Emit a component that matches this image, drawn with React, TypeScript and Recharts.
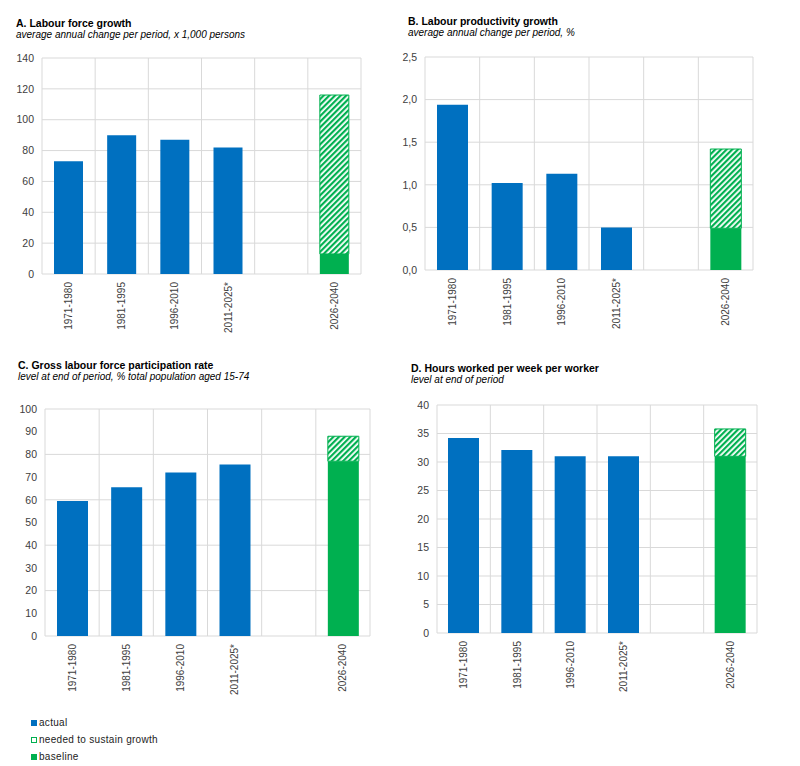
import { BarChart, Bar, XAxis, YAxis, CartesianGrid } from "recharts";

const categories = ["1971-1980", "1981-1995", "1996-2010", "2011-2025*", "", "2026-2040"];

// A. Labour force growth
const laborActual = [73, 90, 87, 82, null, null];
const laborBaseline = [null, null, null, null, null, 13];
const laborNeeded = [null, null, null, null, null, 103];
const laborTicks = [0, 20, 40, 60, 80, 100, 120, 140];

// B. Labour productivity growth
const prodActual = [1.94, 1.02, 1.13, 0.5, null, null];
const prodBaseline = [null, null, null, null, null, 0.49];
const prodNeeded = [null, null, null, null, null, 0.93];
const prodTicks = [0, 0.5, 1, 1.5, 2, 2.5];

// C. Gross labour force participation rate
const partActual = [59.5, 65.5, 72, 75.5, null, null];
const partBaseline = [null, null, null, null, null, 77];
const partNeeded = [null, null, null, null, null, 11];
const partTicks = [0, 10, 20, 30, 40, 50, 60, 70, 80, 90, 100];

// D. Hours worked per week per worker
const hoursActual = [34.2, 32.1, 31, 31, null, null];
const hoursBaseline = [null, null, null, null, null, 31];
const hoursNeeded = [null, null, null, null, null, 4.8];
const hoursTicks = [0, 5, 10, 15, 20, 25, 30, 35, 40];

const legendItems = ["actual", "needed to sustain growth", "baseline"];

const BLUE = "#0070C0";
const GREEN = "#00B050";
const GRID = "#d9d9d9";
const FONT = "'Liberation Sans', Arial, sans-serif";

type PanelProps = {
  id: string;
  title: string;
  subtitle: string;
  titleLeft: number;
  titleTop: number;
  actual: (number | null)[];
  baseline: (number | null)[];
  needed: (number | null)[];
  ticks: number[];
  fmt?: (v: number) => string;
  left: number;
  top: number;
  width: number;
  height: number;
  margin: { top: number; right: number; left: number; bottom: number };
  yWidth: number;
  barSize: number;
};

const XTick = (p: any) => (
  <text
    x={p.x}
    y={p.y}
    transform={`rotate(-90 ${p.x} ${p.y})`}
    textAnchor="end"
    dominantBaseline="central"
    fontSize={10}
    fill="#404040"
    fontFamily={FONT}
  >
    {p.payload.value}
  </text>
);

function Panel(props: PanelProps) {
  const data = categories.map((c, i) => ({
    name: c,
    actual: props.actual[i],
    baseline: props.baseline[i],
    needed: props.needed[i],
  }));
  const n = categories.length;
  return (
    <>
      <div
        style={{
          position: "absolute",
          left: props.titleLeft,
          top: props.titleTop,
          fontFamily: FONT,
          color: "#000",
          whiteSpace: "nowrap",
        }}
      >
        <div style={{ fontSize: 10.5, fontWeight: "bold", lineHeight: "12px" }}>{props.title}</div>
        <div style={{ fontSize: 10, fontStyle: "italic", lineHeight: "12px" }}>{props.subtitle}</div>
      </div>
      <div style={{ position: "absolute", left: props.left, top: props.top }}>
        <BarChart width={props.width} height={props.height} data={data} margin={props.margin}>
          <defs>
            <pattern
              id={`hatch-${props.id}`}
              width={4}
              height={4}
              patternUnits="userSpaceOnUse"
              patternTransform="rotate(45)"
            >
              <rect x={0} y={0} width={4} height={4} fill="#ffffff" />
              <rect x={0} y={0} width={2.2} height={4} fill={GREEN} />
            </pattern>
          </defs>
          <CartesianGrid
            stroke={GRID}
            verticalCoordinatesGenerator={({ offset }: any) =>
              Array.from({ length: n + 1 }, (_, i) => offset.left + (i * offset.width) / n)
            }
          />
          <XAxis
            dataKey="name"
            axisLine={false}
            tickLine={false}
            interval={0}
            height={76}
            tick={<XTick />}
          />
          <YAxis
            width={props.yWidth}
            domain={[props.ticks[0], props.ticks[props.ticks.length - 1]]}
            ticks={props.ticks}
            axisLine={false}
            tickLine={false}
            tick={{ fontSize: 10.5, fill: "#404040", fontFamily: FONT }}
            tickFormatter={props.fmt}
          />
          <Bar dataKey="actual" stackId="s" fill={BLUE} barSize={props.barSize} isAnimationActive={false} />
          <Bar dataKey="baseline" stackId="s" fill={GREEN} barSize={props.barSize} isAnimationActive={false} />
          <Bar
            dataKey="needed"
            stackId="s"
            fill={`url(#hatch-${props.id})`}
            stroke={GREEN}
            strokeWidth={1}
            barSize={props.barSize}
            isAnimationActive={false}
          />
        </BarChart>
      </div>
    </>
  );
}

export default function App() {
  return (
    <div
      style={{
        position: "absolute",
        left: 0,
        top: 0,
        width: 800,
        height: 766,
        background: "#fff",
        fontFamily: FONT,
      }}
    >
      <Panel
        id="a"
        title="A. Labour force growth"
        subtitle="average annual change per period, x 1,000 persons"
        titleLeft={16}
        titleTop={17}
        actual={laborActual}
        baseline={laborBaseline}
        needed={laborNeeded}
        ticks={laborTicks}
        left={0}
        top={50}
        width={380}
        height={300}
        margin={{ top: 8, right: 19, left: 8, bottom: 0 }}
        yWidth={34}
        barSize={29}
      />
      <Panel
        id="b"
        title="B. Labour productivity growth"
        subtitle="average annual change per period, %"
        titleLeft={408}
        titleTop={15}
        actual={prodActual}
        baseline={prodBaseline}
        needed={prodNeeded}
        ticks={prodTicks}
        fmt={(v) => v.toFixed(1).replace(".", ",")}
        left={390}
        top={49}
        width={380}
        height={297}
        margin={{ top: 8, right: 17, left: 0, bottom: 0 }}
        yWidth={35}
        barSize={31}
      />
      <Panel
        id="c"
        title="C. Gross labour force participation rate"
        subtitle="level at end of period, % total population aged 15-74"
        titleLeft={18}
        titleTop={359}
        actual={partActual}
        baseline={partBaseline}
        needed={partNeeded}
        ticks={partTicks}
        left={0}
        top={401}
        width={380}
        height={311}
        margin={{ top: 8, right: 10, left: 8, bottom: 0 }}
        yWidth={37}
        barSize={31}
      />
      <Panel
        id="d"
        title="D. Hours worked per week per worker"
        subtitle="level at end of period"
        titleLeft={411}
        titleTop={362}
        actual={hoursActual}
        baseline={hoursBaseline}
        needed={hoursNeeded}
        ticks={hoursTicks}
        left={390}
        top={397}
        width={380}
        height={312}
        margin={{ top: 8, right: 13, left: 8, bottom: 0 }}
        yWidth={39}
        barSize={31}
      />
      <div style={{ position: "absolute", left: 31, top: 714, fontSize: 10, color: "#222" }}>
        {legendItems.map((item, i) => (
          <div key={item} style={{ display: "flex", alignItems: "center", height: 17 }}>
            <span
              style={{
                display: "inline-block",
                width: 6,
                height: 6,
                boxSizing: "border-box",
                marginRight: 2,
                background: i === 0 ? BLUE : i === 2 ? GREEN : "#fff",
                border: i === 1 ? `1.5px solid ${GREEN}` : "none",
              }}
            />
            <span style={{ letterSpacing: 0.3 }}>{item}</span>
          </div>
        ))}
      </div>
    </div>
  );
}
